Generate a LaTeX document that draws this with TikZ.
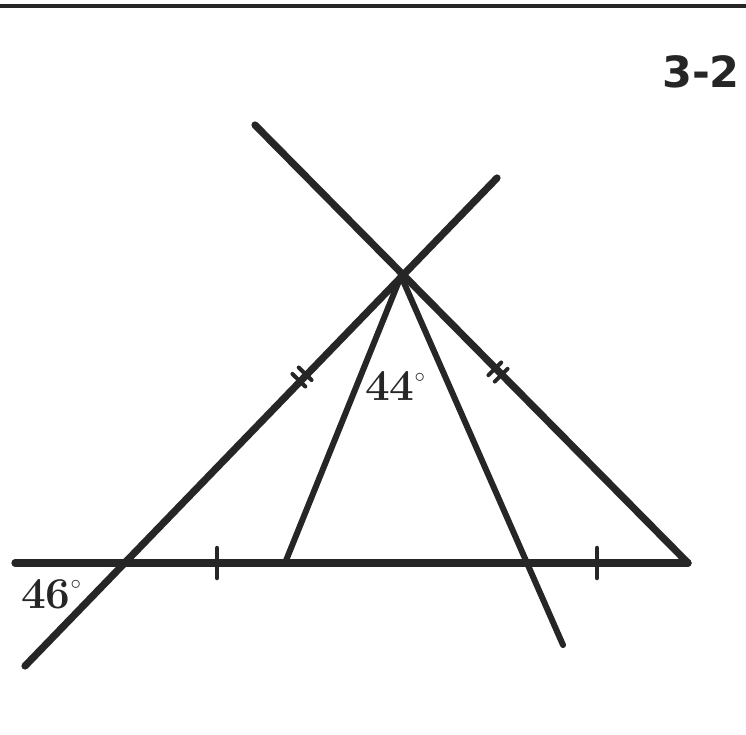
\documentclass[tikz,border=0pt]{standalone}
\usepackage{fontspec}
\newfontfamily\labelsans{DejaVu Sans}
\usetikzlibrary{calc}
\definecolor{ink}{HTML}{262626}
\newcommand{\degmark}{\raisebox{0.42em}{\fontsize{22}{22}\selectfont$\circ$}}
\tikzset{
  mainline/.style={draw=ink, line width=7.2pt, line cap=round},
  cevian/.style={draw=ink, line width=6pt, line cap=round},
  tickmark/.style={draw=ink, line width=4.5pt, line cap=round},
  anglelabel/.style={text=ink, font=\fontsize{44}{44}\selectfont\bfseries, inner sep=0pt},
  figlabel/.style={text=ink, font=\labelsans\fontsize{43}{43}\selectfont\bfseries, inner sep=0pt}
}
\begin{document}
\begin{tikzpicture}[x=1pt,y=-1pt]
\useasboundingbox (0,0) rectangle (746,734);
\fill[white] (0,0) rectangle (746,734);
% top border
\draw[draw=ink, line width=4pt] (0,6) -- (746,6);
% points
\coordinate (P) at (401,276);
\coordinate (L1) at (25,666);
\coordinate (L2) at (497,178);
\coordinate (R1) at (255,125);
\coordinate (C) at (688,563);
\coordinate (A0) at (15,563);
\coordinate (B) at (123,563);
\coordinate (D) at (285,563);
\coordinate (F) at (563,645);
% lines
\draw[mainline] (L1) -- (L2);
\draw[mainline] (R1) -- (C);
\draw[mainline] (A0) -- (C);
\draw[cevian] (P) -- (D);
\draw[cevian] (P) -- (F);
% single ticks on base
\coordinate (T1) at (217,563);
\coordinate (T2) at (597,563);
\draw[tickmark] ($(T1)+(0,-15)$) -- ($(T1)+(0,15)$);
\draw[tickmark] ($(T2)+(0,-15)$) -- ($(T2)+(0,15)$);
% double ticks
\coordinate (M1) at (302,377);
\coordinate (M2) at (498,372);
\foreach \s in {-4.5,4.5} {
  \coordinate (q) at ($(M1)!\s pt!(L2)$);
  \draw[tickmark, line width=4pt] ($(q)!9pt!90:(L2)$) -- ($(q)!9pt!-90:(L2)$);
  \coordinate (r) at ($(M2)!\s pt!(C)$);
  \draw[tickmark, line width=4pt] ($(r)!9pt!90:(C)$) -- ($(r)!9pt!-90:(C)$);
}
% labels
\node[anglelabel] (a44) at (395,386) {44\degmark};
\node[anglelabel] (a46) at (51,594) {46\degmark};
\node[figlabel] (fig) at (701,72) {3-2};
\end{tikzpicture}
\end{document}
